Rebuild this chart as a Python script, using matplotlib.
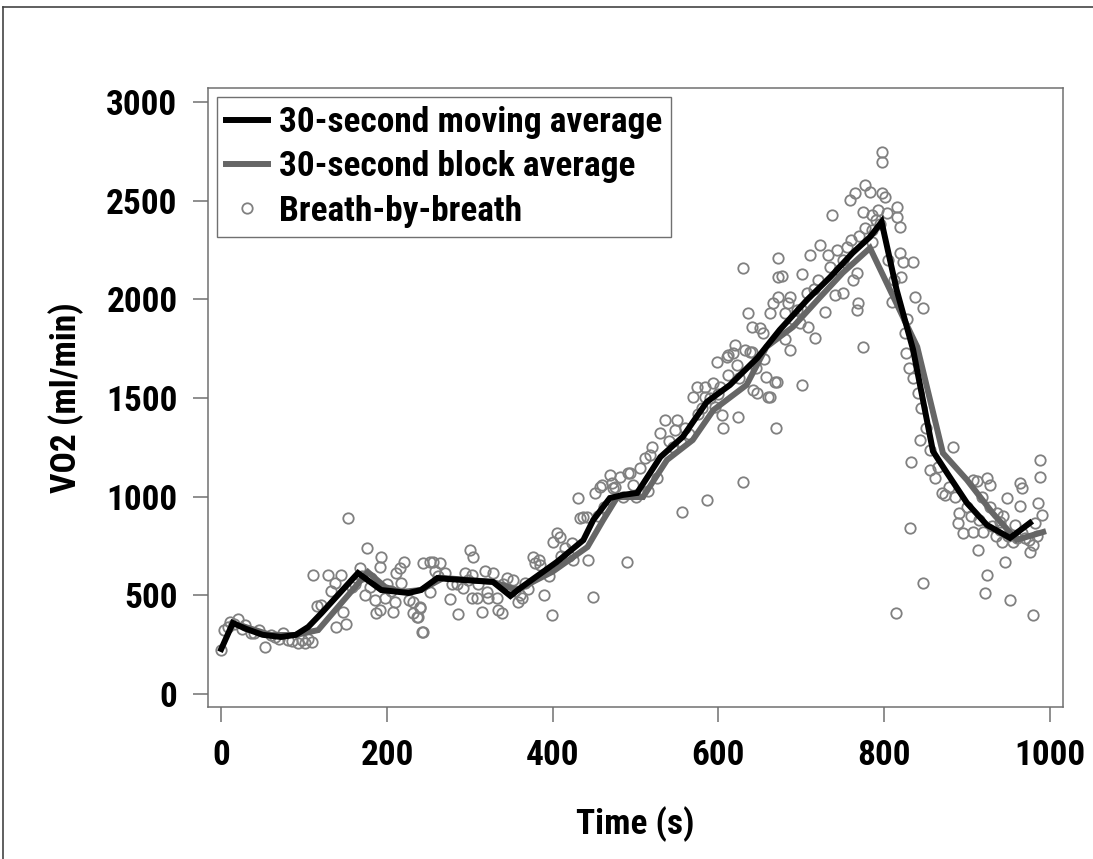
import matplotlib.pyplot as plt
from matplotlib.lines import Line2D
from matplotlib import font_manager as fm

# pick a bold narrow sans like Arial Narrow Bold
CANDIDATES = ['Liberation Sans Narrow', 'Arial Narrow', 'Roboto Condensed', 'PT Sans Narrow',
              'Archivo Narrow', 'Open Sans Condensed', 'Barlow Semi Condensed', 'Asap Condensed']
found = {}
for f in fm.fontManager.ttflist:
    w = f.weight if isinstance(f.weight, int) else 700 if 'bold' in str(f.weight) else 400
    found.setdefault(f.name, set()).add(w)
FONT = 'DejaVu Sans'
for c in CANDIDATES:
    if c in found and max(found[c]) >= 700:
        FONT = c
        break

plt.rcParams['font.family'] = [FONT, 'DejaVu Sans']
plt.rcParams['font.weight'] = 'bold'

# 30-second moving average (black)
ma_t = [0, 14, 30, 50, 72, 90, 105, 121, 165, 193, 226, 241, 261, 273, 328, 349, 361,
        405, 437, 449, 469, 485, 502, 530, 557, 586, 614, 647, 674, 707, 735, 762, 783,
        797, 815, 835, 859, 876, 900, 924, 952, 976]
ma_v = [228, 360, 330, 300, 289, 300, 340, 410, 613, 527, 512, 527, 588, 583, 568, 497, 537,
        669, 780, 882, 993, 1009, 1019, 1201, 1303, 1480, 1566, 1703, 1845, 1997, 2113, 2235, 2316,
        2392, 2050, 1745, 1230, 1120, 968, 857, 791, 867]

# 30-second block average (grey)
blk_t = [29, 60, 89, 117, 177, 198, 217, 241, 268, 328, 357, 400, 442, 461, 478, 509, 538,
         569, 594, 634, 658, 690, 723, 750, 783, 840, 871, 900, 931, 960, 992]
blk_v = [340, 299, 299, 324, 618, 542, 517, 527, 588, 568, 527, 620, 745, 882, 998, 998, 1186,
         1287, 1439, 1566, 1759, 1860, 2012, 2134, 2260, 1759, 1221, 1085, 917, 781, 821]

# breath-by-breath samples
bb_t = [0, 3, 11, 20, 29, 36, 45, 53, 65, 75, 81, 93, 101, 109, 115, 111, 129, 137, 144, 139,
        150, 147, 153, 168, 176, 174, 186, 187, 192, 193, 192, 198, 207, 210, 211, 216, 220, 217,
        226, 232, 238, 240, 244, 244,
        8, 15, 25, 40, 60, 70, 85, 97, 105, 120, 133, 158, 162, 170, 181, 200, 205, 180,
        252, 256, 264, 258, 270, 279, 252, 242, 236, 240, 232, 276, 286, 300, 304, 294, 303, 318,
        328, 292, 303, 309, 315, 322, 321, 333, 334, 339, 345, 352, 358, 363, 367, 379, 383, 376,
        385, 389, 399, 400, 405, 409, 423, 425, 443, 449, 433, 437, 431, 451, 460, 469, 472, 475,
        481, 490, 491,
        262, 285, 298, 310, 340, 355, 360, 370, 395, 410, 415, 420, 455, 462,
        441, 457, 473, 493, 505, 511, 517, 526, 530, 536, 550, 548, 556, 586, 630, 569, 574, 584,
        594, 598, 610, 618, 620, 632, 641, 596, 604, 606, 624, 642, 647, 660, 658, 668, 669, 636,
        641, 650, 654, 662, 666, 672, 672, 672, 630,
        520, 540, 545, 560, 565, 575, 580, 590, 600, 555, 500, 515, 485, 497,
        677, 687, 684, 680, 695, 698, 708, 717, 707, 701, 710, 723, 732, 735, 743, 737, 755, 767,
        762, 768, 767, 775, 729, 741, 750, 759, 765, 777, 783, 797, 801, 775, 793, 786, 803, 797,
        797, 777, 785, 785, 815, 815, 612, 638, 622, 612, 602, 584, 662, 671, 701, 686,
        690, 700, 715, 720, 745, 750, 760, 770, 790, 795, 680, 655, 645, 625,
        819, 819, 823, 835, 821, 809, 837, 847, 825, 827, 841, 843, 833, 855, 855, 861, 870, 873,
        883, 907, 912, 924, 891, 889, 895, 907, 913, 919, 928, 936, 940, 948, 942, 946, 924, 922,
        952, 964, 966, 964, 958, 967, 976, 980, 986, 988, 988, 990, 982, 980, 847, 831, 814,
        845, 850, 865, 878, 885, 900, 905, 915, 930, 935, 950, 955, 960, 970, 975, 985, 830, 835,
        812, 805, 828, 940, 944, 918, 928]
bb_v = [223, 324, 365, 380, 350, 309, 324, 238, 289, 309, 274, 258, 258, 264, 446, 603, 603, 562, 603, 340,
        355, 416, 892, 638, 740, 502, 476, 410, 426, 694, 644, 487, 416, 466, 613, 638, 669, 562,
        476, 410, 390, 441, 314, 664,
        340, 355, 330, 310, 300, 280, 270, 275, 280, 450, 520, 540, 560, 600, 590, 560, 520, 540,
        669, 669, 664, 623, 613, 557, 517, 314, 390, 436, 466, 481, 405, 730, 694, 613, 603, 623,
        613, 537, 487, 487, 416, 487, 517, 487, 426, 410, 588, 578, 466, 487, 563, 664, 679, 694,
        654, 502, 400, 770, 816, 796, 765, 679, 679, 492, 892, 897, 993, 1019, 1059, 1110, 1069, 1049,
        1100, 669, 1120,
        600, 560, 580, 560, 560, 520, 500, 530, 600, 700, 740, 700, 900, 950,
        897, 1049, 1044, 1120, 1145, 1196, 1211, 1095, 1323, 1389, 1389, 1338, 922, 983, 1074, 1505, 1556, 1556,
        1576, 1683, 1708, 1728, 1769, 1743, 1733, 1455, 1414, 1348, 1404, 1541, 1526, 1505, 1607, 1581, 1348, 1931,
        1860, 1855, 1830, 1931, 1982, 2012, 2113, 2210, 2159,
        1250, 1280, 1250, 1350, 1320, 1420, 1450, 1500, 1520, 1270, 1000, 1030, 1000, 1060,
        2119, 2012, 1982, 1931, 1946, 1880, 1860, 1804, 2032, 2129, 2225, 2276, 2225, 2164, 2250, 2428, 2266, 2134,
        2098, 1982, 1946, 1759, 1936, 2022, 2032, 2504, 2539, 2580, 2544, 2539, 2519, 2443, 2453, 2428, 2438, 2696,
        2747, 2362, 2352, 2291, 2468, 2418, 1718, 1733, 1667, 1617, 1556, 1505, 1505, 1581, 1566, 1743,
        1900, 1950, 2050, 2100, 2150, 2200, 2300, 2320, 2400, 2380, 1800, 1700, 1650, 1600,
        2367, 2235, 2190, 2190, 2113, 1987, 2012, 1956, 1830, 1728, 1526, 1287, 1176, 1237, 1135, 1095, 1019, 1009,
        1252, 1085, 1080, 1095, 917, 867, 816, 821, 730, 821, 948, 917, 872, 993, 770, 669, 603, 512,
        476, 1069, 1044, 953, 857, 816, 720, 755, 968, 1186, 1100, 907, 867, 400, 563, 841, 410,
        1450, 1350, 1150, 1050, 1000, 950, 900, 880, 850, 800, 800, 770, 790, 790, 780, 800, 1650, 1600,
        2100, 2200, 1900, 830, 900, 1000, 1060]

xticks = [0, 200, 400, 600, 800, 1000]
yticks = [0, 500, 1000, 1500, 2000, 2500, 3000]

frame = '#707070'
FS = 25.5

fig = plt.figure(figsize=(10.93, 8.59), dpi=100)
ax = fig.add_axes([0.1903, 0.1769, 0.7823, 0.7207])

ax.plot(bb_t, bb_v, linestyle='none', marker='o', markersize=7.5,
        markerfacecolor='none', markeredgecolor='#808080', markeredgewidth=1.3, zorder=1)
ax.plot(blk_t, blk_v, color='#666666', linewidth=4.3, solid_joinstyle='miter', zorder=2)
ax.plot(ma_t, ma_v, color='black', linewidth=4.3, solid_joinstyle='miter', zorder=3)

ax.set_xlim(-16, 1016)
ax.set_ylim(-66, 3071)
ax.set_xticks(xticks)
ax.set_yticks(yticks)
for s in ax.spines.values():
    s.set_color(frame)
    s.set_linewidth(1.1)
ax.tick_params(axis='both', direction='out', length=11, width=1.1, color=frame,
               labelsize=FS)
ax.tick_params(axis='x', pad=12)
ax.tick_params(axis='y', pad=11)
for lab in ax.get_xticklabels() + ax.get_yticklabels():
    lab.set_fontweight('bold')

ax.set_xlabel('Time (s)', fontsize=FS, fontweight='bold', labelpad=25)
ax.set_ylabel('VO2 (ml/min)', fontsize=FS, fontweight='bold', labelpad=16)

handles = [Line2D([], [], color='black', linewidth=4.3),
           Line2D([], [], color='#666666', linewidth=4.3),
           Line2D([], [], linestyle='none', marker='o', markersize=7.5,
                  markerfacecolor='none', markeredgecolor='#808080', markeredgewidth=1.3)]
leg = ax.legend(handles, ['30-second moving average', '30-second block average', 'Breath-by-breath'],
                loc='upper left', bbox_to_anchor=(0.0105, 0.985), borderaxespad=0,
                fancybox=False, framealpha=1, edgecolor=frame,
                handlelength=1.2, handletextpad=0.3, borderpad=0.25, labelspacing=0.32,
                prop={'weight': 'bold', 'size': FS})
leg.get_frame().set_linewidth(1.0)

# outer frame lines on top and left
fig.add_artist(Line2D([0.003, 1], [1 - 7 / 859, 1 - 7 / 859], color='#444444', linewidth=1.2))
fig.add_artist(Line2D([0.003, 0.003], [0, 1 - 7 / 859], color='#444444', linewidth=1.2))

fig.savefig('out.png', dpi=100)
